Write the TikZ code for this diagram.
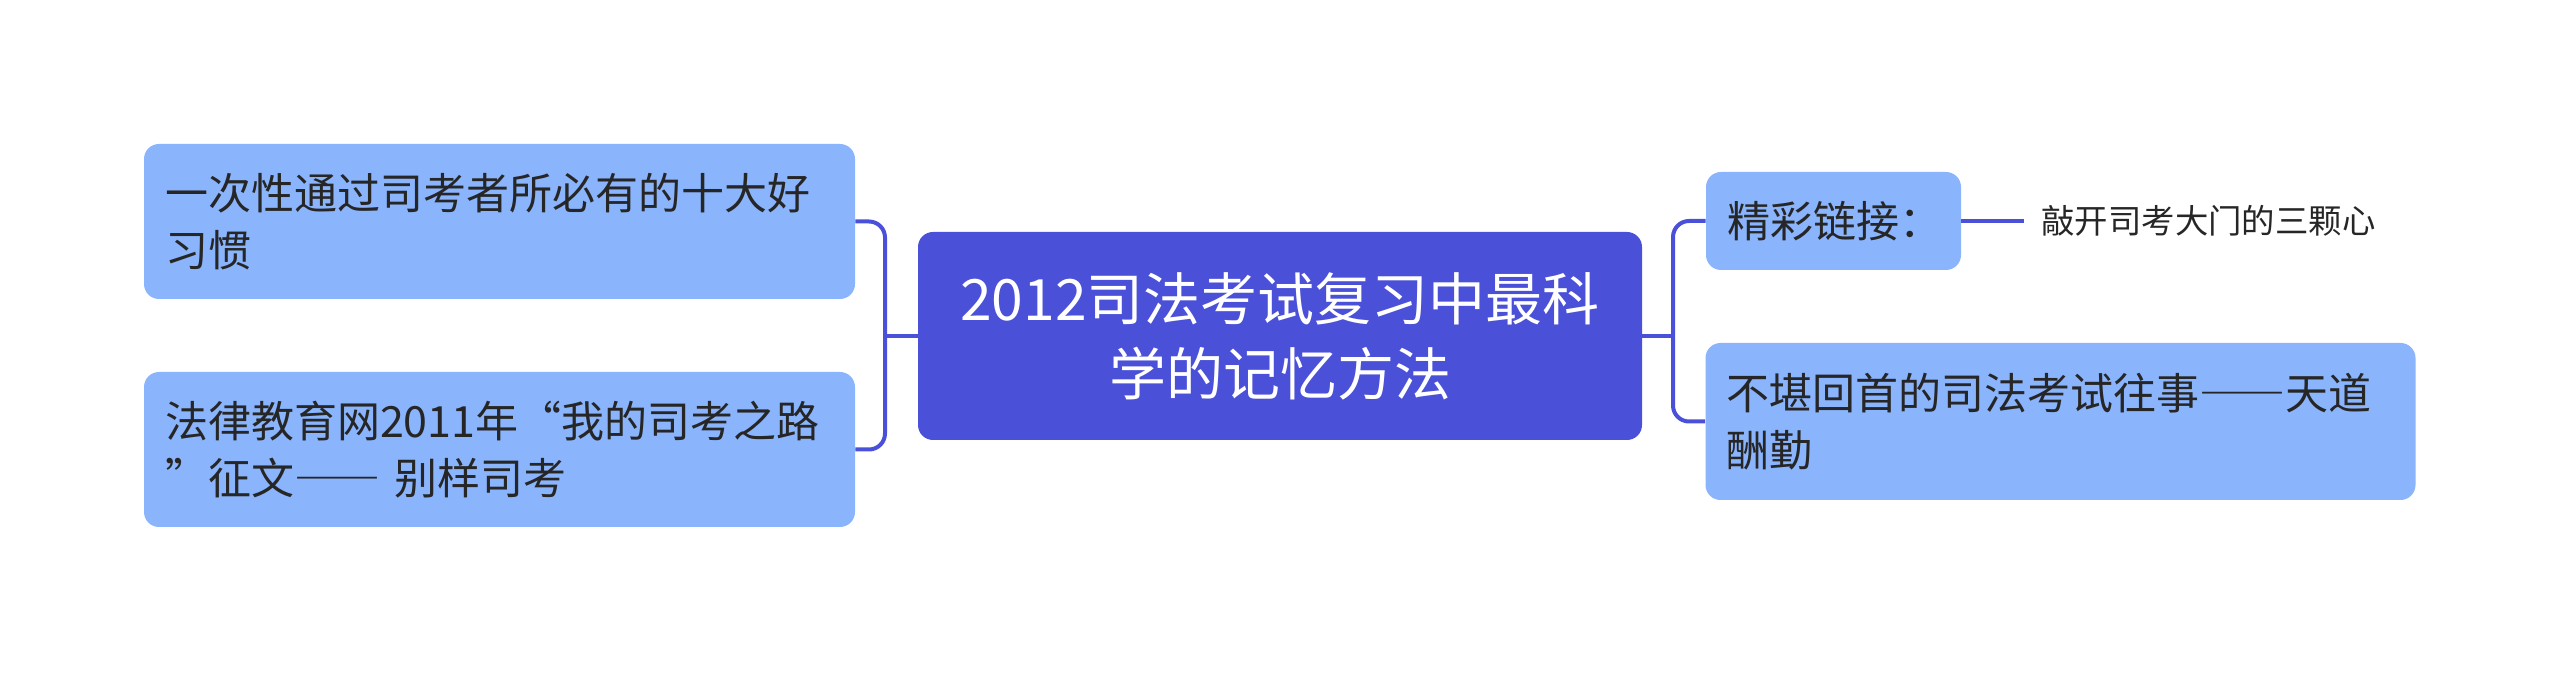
\documentclass[tikz,border=0pt]{standalone}
\usepackage{fontspec}
\setmainfont{Noto Sans CJK SC}
\newfontfamily\fwfont[RawFeature=+fwid]{Noto Sans CJK SC}
\usepackage{tikz}
\usepackage{color}
\definecolor{Root}{RGB}{74,80,216}
\definecolor{Topic}{RGB}{138,180,252}
\definecolor{Ink}{RGB}{38,38,38}
\newcommand{\fw}[1]{{\fwfont #1}}

\begin{document}
\begin{tikzpicture}[x=0.5pt, y=-0.5pt]
    \tikzset{ rn/.style={fill=Root, rounded corners=7.5pt, text=white, align=center, inner sep=0pt, minimum width=362pt, minimum height=104pt, font=\fontsize{28.5}{37.5}\selectfont } }
    \tikzset{ tn/.style={fill=Topic, rounded corners=7.5pt, text=Ink, align=left, inner xsep=10.5pt, inner ysep=0pt, font=\fontsize{21.5}{28.5}\selectfont } }
    \tikzset{ ln/.style={text=Ink, anchor=west, inner xsep=8.5pt, inner ysep=0pt, font=\fontsize{16.7}{20}\selectfont } }
    \tikzset{ lk/.style={draw=Root, line width=2pt, rounded corners=8pt } }

    \useasboundingbox (0,0) rectangle (2560,673);

    \node[rn] (root) at (1280,336) {2012司法考试复习中最科\\学的记忆方法};

    \node[tn, text width=334.5pt, minimum height=77.5pt] (l1) at (499.5,221.5) {一次性通过司考者所必有的十大好\\习惯};
    \node[tn, text width=334.5pt, minimum height=77.5pt] (l2) at (499.5,449.5) {法律教育网2011年\fw{“}我的司考之路\\\fw{”}征文\fw{——} 别样司考};

    \node[tn, text width=106.5pt, minimum height=49pt] (r1) at (1833.5,221) {精彩链接：};
    \node[tn, text width=334pt, minimum height=78.5pt] (r2) at (2060.5,421.5) {不堪回首的司法考试往事\fw{——}天道\\酬勤};

    \node[ln] (t1) at (2024,221) {敲开司考大门的三颗心};

    \coordinate (jl) at (885,336);
    \coordinate (jr) at (1673,336);

    \draw[lk] (root.west) -- (jl);
    \draw[lk] (l1.east) -| (jl) |- (l2.east);
    \draw[lk] (root.east) -- (jr);
    \draw[lk] (r1.west) -| (jr) |- (r2.west);
    \draw[lk] (r1.east) -- (t1.west);
\end{tikzpicture}
\end{document}
